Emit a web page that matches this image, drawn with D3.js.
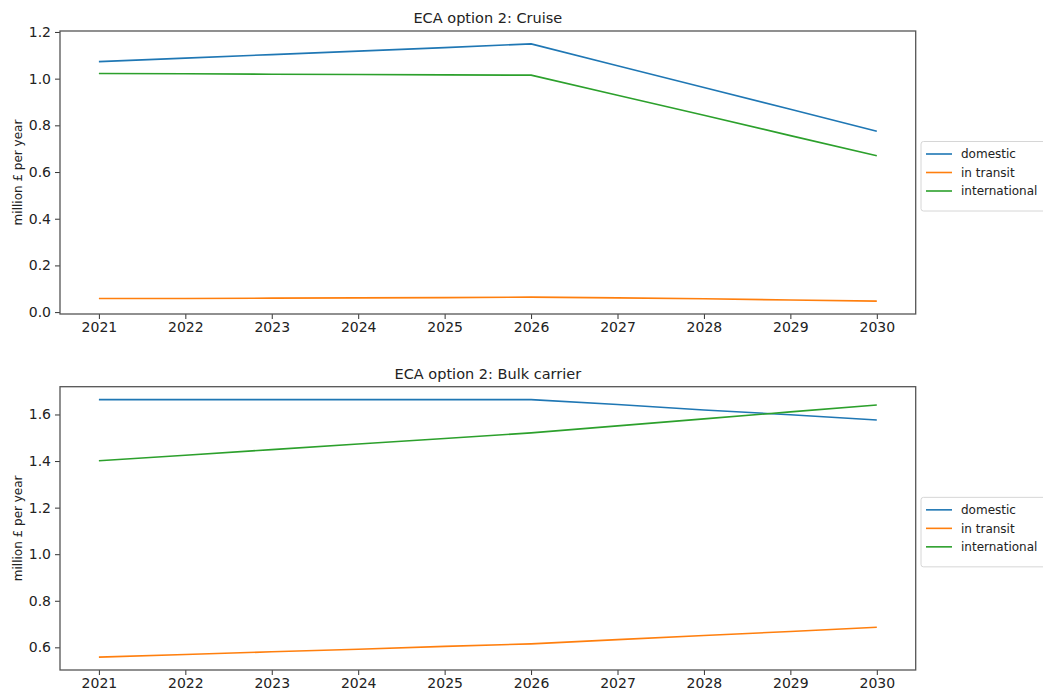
<!DOCTYPE html>
<html>
<head>
<meta charset="utf-8">
<script src="https://cdn.jsdelivr.net/npm/d3@7"></script>
<style>
  html, body { margin: 0; padding: 0; background: #fff; }
  svg { display: block; font-family: "DejaVu Sans", sans-serif; }
</style>
</head>
<body>
<svg id="chart" width="1043" height="690"></svg>
<script>
// Years on the x axis
const years = [2021, 2022, 2023, 2024, 2025, 2026, 2027, 2028, 2029, 2030];
const seriesNames = ["domestic", "in transit", "international"];
const seriesColors = ["#1f77b4", "#ff7f0e", "#2ca02c"];

// Cruise: costs in million £ per year
const cruiseDomestic      = [1.073, 1.088, 1.103, 1.118, 1.133, 1.149, 1.055, 0.962, 0.869, 0.775];
const cruiseInTransit     = [0.058, 0.058, 0.060, 0.061, 0.062, 0.064, 0.061, 0.057, 0.052, 0.047];
const cruiseInternational = [1.022, 1.021, 1.019, 1.018, 1.016, 1.015, 0.929, 0.843, 0.756, 0.670];
const cruiseTicks = [0.0, 0.2, 0.4, 0.6, 0.8, 1.0, 1.2];

// Bulk carrier: costs in million £ per year
const bulkDomestic      = [1.664, 1.664, 1.664, 1.664, 1.664, 1.664, 1.643, 1.619, 1.599, 1.576];
const bulkInTransit     = [0.558, 0.569, 0.581, 0.592, 0.604, 0.615, 0.633, 0.651, 0.668, 0.686];
const bulkInternational = [1.401, 1.425, 1.449, 1.473, 1.497, 1.521, 1.551, 1.581, 1.611, 1.641];
const bulkTicks = [0.6, 0.8, 1.0, 1.2, 1.4, 1.6];

const panels = [
  { title: "ECA option 2: Cruise", series: [cruiseDomestic, cruiseInTransit, cruiseInternational],
    ticks: cruiseTicks, top: 31, bottom: 314 },
  { title: "ECA option 2: Bulk carrier", series: [bulkDomestic, bulkInTransit, bulkInternational],
    ticks: bulkTicks, top: 386.7, bottom: 670 }
];

const svg = d3.select("#chart");
const left = 60, right = 915.7;

panels.forEach(p => {
  const g = svg.append("g");
  // x axis with 5% padding either side, as in the usual auto-limits
  const xPad = (years[years.length - 1] - years[0]) * 0.05;
  const x = d3.scaleLinear()
    .domain([years[0] - xPad, years[years.length - 1] + xPad])
    .range([left, right]);
  const all = p.series.flat();
  const lo = d3.min(all), hi = d3.max(all), yPad = (hi - lo) * 0.05;
  const y = d3.scaleLinear().domain([lo - yPad, hi + yPad]).range([p.bottom, p.top]);

  // lines
  const line = d3.line().x((d, i) => x(years[i])).y(d => y(d));
  p.series.forEach((s, k) => {
    g.append("path").datum(s)
      .attr("d", line)
      .attr("fill", "none")
      .attr("stroke", seriesColors[k])
      .attr("stroke-width", 1.6)
      .attr("stroke-linejoin", "round");
  });

  // axes
  const xAxis = d3.axisBottom(x).tickValues(years).tickFormat(d3.format("d")).tickSizeOuter(0).tickSize(5).tickPadding(3);
  const yAxis = d3.axisLeft(y).tickValues(p.ticks).tickFormat(d3.format(".1f")).tickSizeOuter(0).tickSize(5).tickPadding(4);
  const gx = g.append("g").attr("transform", `translate(0,${p.bottom})`).call(xAxis);
  const gy = g.append("g").attr("transform", `translate(${left},0)`).call(yAxis);
  [gx, gy].forEach(a => {
    a.select(".domain").remove();
    a.selectAll(".tick line").attr("stroke", "#333").attr("stroke-width", 1);
    a.selectAll(".tick text").attr("fill", "#222").style("font-size", "14px").style("font-family", "DejaVu Sans");
  });

  // frame
  g.append("rect")
    .attr("x", left).attr("y", p.top)
    .attr("width", right - left).attr("height", p.bottom - p.top)
    .attr("fill", "none").attr("stroke", "#555").attr("stroke-width", 1.3);

  // title
  g.append("text")
    .attr("x", (left + right) / 2).attr("y", p.top - 8)
    .attr("text-anchor", "middle")
    .attr("fill", "#222")
    .style("font-size", "14.5px")
    .text(p.title);

  // y label
  g.append("text")
    .attr("transform", `translate(21.5,${(p.top + p.bottom) / 2}) rotate(-90)`)
    .attr("text-anchor", "middle")
    .attr("fill", "#222")
    .style("font-size", "12px")
    .text("million £ per year");

  // legend
  const mid = (p.top + p.bottom) / 2;
  const lg = g.append("g").attr("transform", `translate(921,${mid - 31})`);
  lg.append("rect")
    .attr("x", 0).attr("y", 0).attr("width", 130).attr("height", 69.5)
    .attr("rx", 2.5)
    .attr("fill", "#fff").attr("stroke", "#d6d6d6").attr("stroke-width", 1);
  seriesNames.forEach((name, k) => {
    const cy = 12.5 + k * 18.5;
    lg.append("line")
      .attr("x1", 5).attr("x2", 31)
      .attr("y1", cy).attr("y2", cy)
      .attr("stroke", seriesColors[k]).attr("stroke-width", 1.6);
    lg.append("text")
      .attr("x", 40).attr("y", cy + 4.3)
      .attr("fill", "#222")
      .style("font-size", "12px")
      .text(name);
  });
});
</script>
</body>
</html>
